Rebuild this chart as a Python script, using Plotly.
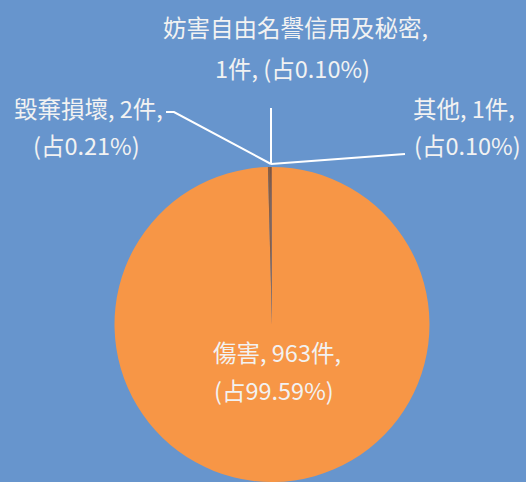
import plotly.graph_objects as go

# Data
categories = ["傷害", "毀棄損壞", "妨害自由名譽信用及秘密", "其他"]
counts = [963, 2, 1, 1]
colors = ["#F79646", "#8C5E40", "#7E5540", "#9A6446"]

total = sum(counts)
pcts = [c / total * 100 for c in counts]

W, H = 526, 482
BG = "#6795CD"
TXT = "#F2F2F2"
FONT = "Noto Sans CJK TC"
FS = 23.5


def px(x):
    return x / W


def py(y):
    return 1 - y / H


fig = go.Figure(
    go.Pie(
        labels=categories,
        values=counts,
        sort=False,
        direction="clockwise",
        rotation=0,
        marker=dict(colors=colors, line=dict(width=0)),
        textinfo="none",
        hoverinfo="label+value+percent",
        domain=dict(x=[px(114), px(430)], y=[0, py(167)]),
        showlegend=False,
    )
)

# label placements (line centres in pixels)
label_pos = {
    "傷害": [(277, 352), (274, 390)],
    "毀棄損壞": [(88, 108), (86, 145)],
    "妨害自由名譽信用及秘密": [(295, 27), (292, 68)],
    "其他": [(464, 108), (467, 145)],
}

annotations = []
for cat, cnt, pct in zip(categories, counts, pcts):
    if cat == "妨害自由名譽信用及秘密":
        lines = [f"{cat},", f"{cnt}件, (占{pct:.2f}%)"]
    else:
        lines = [f"{cat}, {cnt}件,", f"(占{pct:.2f}%)"]
    for (x, y), line in zip(label_pos[cat], lines):
        annotations.append(
            dict(
                x=px(x), y=py(y), xref="paper", yref="paper",
                text=line, showarrow=False,
                xanchor="center", yanchor="middle",
                font=dict(family=FONT, size=FS, color=TXT),
            )
        )

lw = dict(color="white", width=2)
shapes = [
    dict(type="line", xref="paper", yref="paper",
         x0=px(271), y0=py(108), x1=px(271), y1=py(164), line=lw),
    dict(type="line", xref="paper", yref="paper",
         x0=px(271), y0=py(164), x1=px(405), y1=py(154), line=lw),
    dict(type="path", xref="paper", yref="paper",
         path=f"M {px(271)} {py(164)} L {px(174)} {py(112)} L {px(166)} {py(112)}",
         line=lw),
]

fig.update_layout(
    width=W, height=H,
    margin=dict(l=0, r=0, t=0, b=0),
    paper_bgcolor=BG, plot_bgcolor=BG,
    annotations=annotations,
    shapes=shapes,
)

fig.write_html(
    "out.html",
    config={"displayModeBar": False},
    post_script=f"document.body.style.margin='0';document.body.style.background='{BG}';",
)
